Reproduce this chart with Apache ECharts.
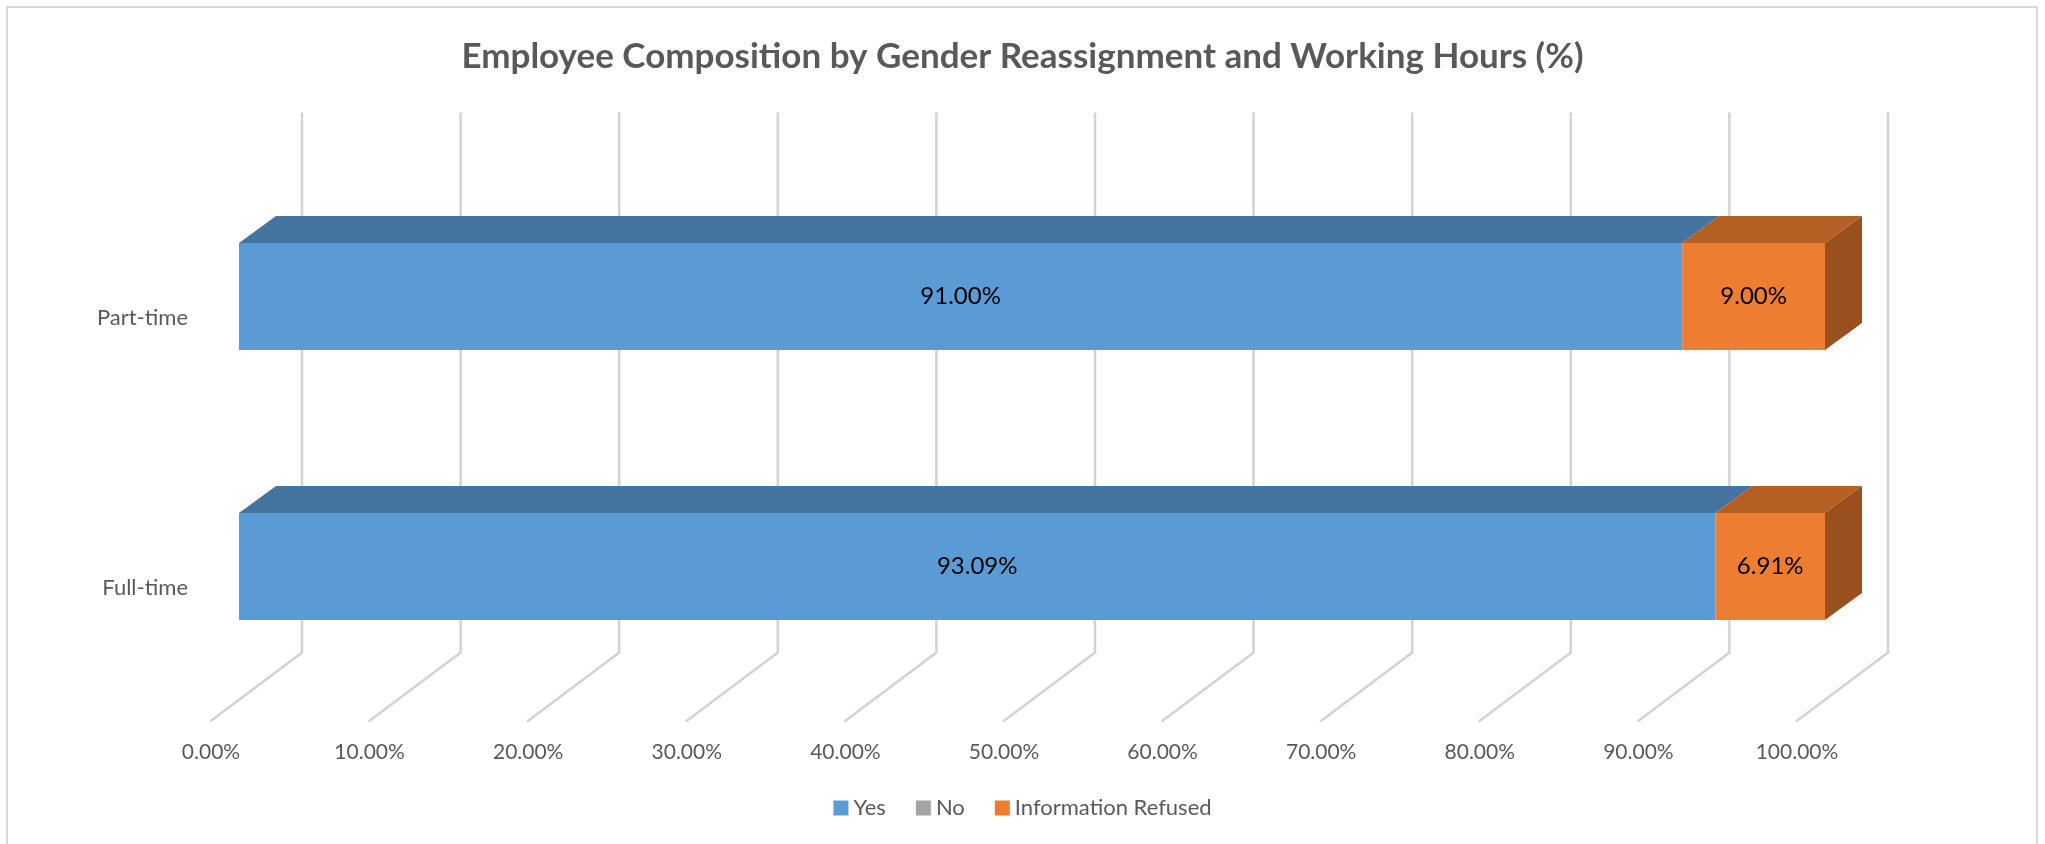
<!DOCTYPE html>
<html>
<head>
<meta charset="utf-8">
<title>Employee Composition by Gender Reassignment and Working Hours</title>
<script src="https://cdn.jsdelivr.net/npm/echarts@6/dist/echarts.min.js"></script>
<style>
  html, body { margin: 0; padding: 0; background: #fff; }
  #chart { width: 2045px; height: 844px; }
</style>
</head>
<body>
<div id="chart"></div>
<script>
// data
var categories = ['Full-time', 'Part-time'];
var yesValues = [93.09, 91.00];
var noValues = [0, 0];
var refusedValues = [6.91, 9.00];
var xTicks = [0, 10, 20, 30, 40, 50, 60, 70, 80, 90, 100];

// fake 3d offsets (pixels)
var WALL_DX = 63, WALL_DY = -49;
var FLOOR_DX = -92, FLOOR_DY = 69;
var BAR_DX = 37, BAR_DY = -27;

var fontFamily = 'Lato, "Open Sans", sans-serif';

var seriesDefs = [
  { name: 'Yes', values: yesValues, front: '#5B9BD5', top: '#44749F', side: '#3C6690' },
  { name: 'No', values: noValues, front: '#A5A5A5', top: '#7C7C7C', side: '#6E6E6E' },
  { name: 'Information Refused', values: refusedValues, front: '#ED7D31', top: '#B45F23', side: '#9A4F1E' }
];

var myChart = echarts.init(document.getElementById('chart'));

function boxItem(def, isLast) {
  return function (params, api) {
    var start = api.value(0), end = api.value(1), cat = api.value(2), val = api.value(3);
    if (!val) return null;
    var p1 = api.coord([start, cat]);
    var p2 = api.coord([end, cat]);
    var h = api.size([0, 1])[1] * 0.396;
    var x1 = p1[0], x2 = p2[0];
    var top = p1[1] - h / 2, bottom = p1[1] + h / 2;
    var children = [
      {
        type: 'polygon',
        shape: { points: [[x1, top], [x2, top], [x2 + BAR_DX, top + BAR_DY], [x1 + BAR_DX, top + BAR_DY]] },
        style: { fill: def.top }
      },
      {
        type: 'rect',
        shape: { x: x1, y: top, width: x2 - x1, height: h },
        style: { fill: def.front }
      },
      {
        type: 'text',
        style: {
          x: (x1 + x2) / 2, y: p1[1],
          text: val.toFixed(2) + '%',
          align: 'center', verticalAlign: 'middle',
          fill: '#000', font: '24px ' + fontFamily
        }
      }
    ];
    if (isLast) {
      children.push({
        type: 'polygon',
        shape: { points: [[x2, top], [x2 + BAR_DX, top + BAR_DY], [x2 + BAR_DX, bottom + BAR_DY], [x2, bottom]] },
        style: { fill: def.side }
      });
    }
    return { type: 'group', children: children };
  };
}

var series = [];

// back wall and floor gridlines
series.push({
  type: 'custom',
  name: 'grid3d',
  silent: true,
  z: 1,
  data: xTicks.map(function (v) { return [v]; }),
  renderItem: function (params, api) {
    var cs = params.coordSys;
    var x = api.coord([api.value(0), 0])[0] + WALL_DX;
    var yTop = cs.y + WALL_DY;
    var yBot = cs.y + cs.height + WALL_DY;
    return {
      type: 'polyline',
      shape: { points: [[x, yTop], [x, yBot], [x + FLOOR_DX, yBot + FLOOR_DY]] },
      style: { stroke: '#D3D3D3', lineWidth: 2.5, fill: null }
    };
  }
});

var cum = categories.map(function () { return 0; });
seriesDefs.forEach(function (def, si) {
  var data = def.values.map(function (v, i) {
    var s = cum[i];
    cum[i] += v;
    return [s, s + v, i, v];
  });
  series.push({
    type: 'custom',
    name: def.name,
    z: 2 + si,
    itemStyle: { color: def.front },
    data: data,
    encode: { x: [0, 1], y: 2 },
    renderItem: boxItem(def, si === seriesDefs.length - 1)
  });
});

var option = {
  animation: false,
  title: {
    text: 'Employee Composition by Gender Reassignment and Working Hours (%)',
    left: 'center',
    top: 34,
    textStyle: { color: '#595959', fontSize: 35, fontWeight: 'bold', fontFamily: fontFamily }
  },
  legend: {
    bottom: 20,
    left: 'center',
    icon: 'rect',
    itemWidth: 15,
    itemHeight: 15,
    itemGap: 30,
    data: ['Yes', 'No', 'Information Refused'],
    textStyle: { color: '#595959', fontSize: 22, fontFamily: fontFamily }
  },
  grid: { left: 239, right: 220, top: 161.5, bottom: 142.5 },
  xAxis: {
    type: 'value',
    min: 0,
    max: 100,
    interval: 10,
    axisLine: { show: false },
    axisTick: { show: false },
    splitLine: { show: false },
    axisLabel: {
      margin: 40,
      padding: [0, 56, 0, 0],
      color: '#595959',
      fontSize: 21,
      fontFamily: fontFamily,
      formatter: function (v) { return v.toFixed(2) + '%'; }
    }
  },
  yAxis: {
    type: 'category',
    data: categories,
    axisLine: { show: false },
    axisTick: { show: false },
    splitLine: { show: false },
    axisLabel: {
      margin: 51,
      lineHeight: 42,
      color: '#595959',
      fontSize: 22,
      fontFamily: fontFamily,
      // category labels sit below the bar centres (on the floor edge)
      formatter: function (v) { return '\n' + v; }
    }
  },
  graphic: [{
    type: 'rect',
    silent: true,
    shape: { x: 7, y: 7, width: 2030, height: 845 },
    style: { fill: null, stroke: '#D9D9D9', lineWidth: 2 }
  }],
  series: series
};

myChart.setOption(option);
window.addEventListener('resize', function () { myChart.resize(); });
</script>
</body>
</html>
